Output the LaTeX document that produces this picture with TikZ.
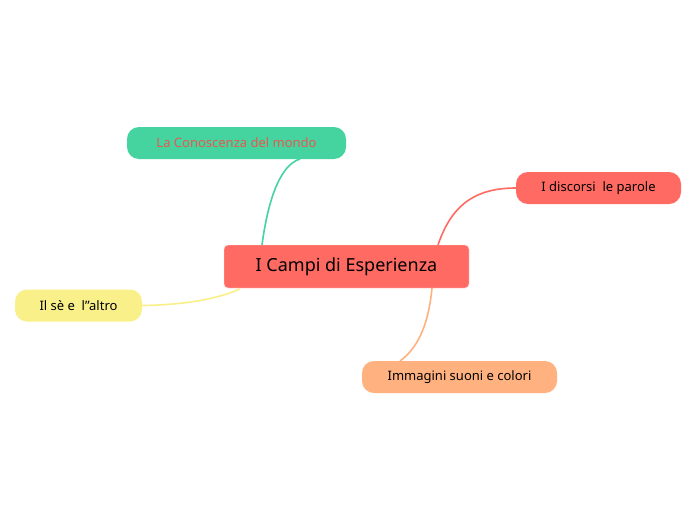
\documentclass[tikz,border=0pt]{standalone}
\usepackage{fontspec}
\setmainfont{Noto Sans}
\begin{document}
\begin{tikzpicture}[x=1pt,y=-1pt,
 box/.style={rounded corners=12pt,minimum height=32pt,font=\fontsize{13}{15}\selectfont,inner sep=0pt},
 link/.style={line width=1.6pt}]
\definecolor{cred}{HTML}{FF6B63}
\definecolor{cgreen}{HTML}{45D3A0}
\definecolor{cyel}{HTML}{F9F08A}
\definecolor{corange}{HTML}{FFB27F}
\definecolor{ctext}{HTML}{E8584F}
\useasboundingbox[fill=white] (0,0) rectangle (696,520);
\node[box,fill=cred,draw=white!80!cred,rounded corners=4pt,minimum width=245pt,minimum height=43pt,font=\fontsize{18}{20}\selectfont\bfseries] (c) at (346.5,266.5) {I Campi di Esperienza};
\node[box,fill=cgreen,minimum width=219pt,text=ctext,font=\fontsize{13}{15}\selectfont\bfseries] (g) at (236.5,143) {La Conoscenza del mondo};
\node[box,fill=cred,minimum width=165pt] (r) at (598.5,188) {I discorsi\ \ le parole};
\node[box,fill=cyel,minimum width=127pt] (y) at (78.5,305.5) {Il sè e\ \ l''altro};
\node[box,fill=corange,minimum width=195pt] (o) at (459.5,377) {Immagini suoni e colori};
\draw[link,cgreen] (262,245) .. controls (268,200) and (280,165) .. (300,159);
\draw[link,cred] (438,245) .. controls (450,210) and (470,188) .. (r.west);
\draw[link,cyel] (240,289) .. controls (215,300) and (180,305) .. (y.east);
\draw[link,corange] (432,288) .. controls (428,330) and (415,350) .. (400,361);
\end{tikzpicture}
\end{document}
